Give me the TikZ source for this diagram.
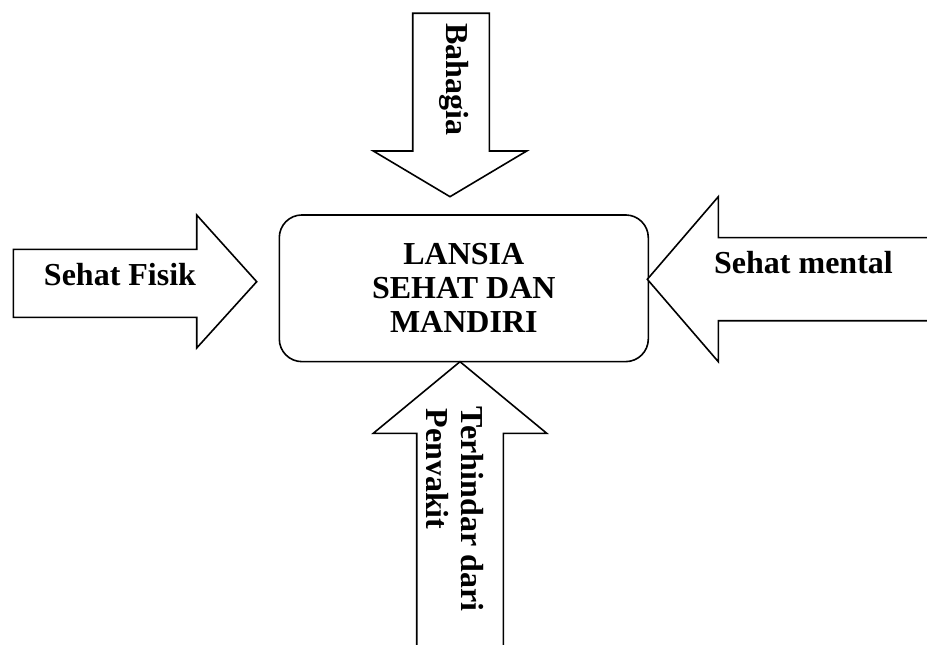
\documentclass[tikz,border=0pt]{standalone}
\usepackage{fontspec}
\setmainfont{Liberation Serif}
\begin{document}
\begin{tikzpicture}[x=0.75pt,y=-0.75pt,
  outline/.style={draw=black, line width=1.2pt, line join=miter},
  blockarrow/.style={outline, fill=white},
  lbl/.style={font=\fontsize{24}{26.25}\selectfont\bfseries, inner sep=0pt},
  mainbox/.style={outline, rounded corners=17pt, minimum width=276.75pt,
    minimum height=110pt, align=center, inner sep=0pt,
    font=\fontsize{24}{25.5}\selectfont\bfseries},
  vlbl/.style={lbl, rotate=-90, anchor=base west},
]
\useasboundingbox (0,0) rectangle (927,645);

% central box
\node[mainbox] (lansia) at (463.8,288.3) {LANSIA\\SEHAT DAN\\MANDIRI};

% top arrow (Bahagia)
\draw[blockarrow] (412.7,13.3) -- (489.3,13.3) -- (489.3,151) -- (526.7,151)
  -- (450,196.7) -- (373.3,151) -- (412.7,151) -- cycle;
\node[vlbl] (bahagia) at (446,23.3) {Bahagia};

% left arrow (Sehat Fisik)
\draw[blockarrow] (13.3,249.3) -- (196.7,249.3) -- (196.7,215) -- (256.7,281.7)
  -- (196.7,348) -- (196.7,317.3) -- (13.3,317.3) -- cycle;
\node[lbl, anchor=base] (fisik) at (120,285) {Sehat Fisik};

% right arrow (Sehat mental), shaft runs off the right edge
\fill[white] (935,237.7) -- (718.3,237.7) -- (718.3,196.7) -- (647.3,279.3)
  -- (718.3,361.7) -- (718.3,320.7) -- (935,320.7) -- cycle;
\draw[outline] (935,237.7) -- (718.3,237.7) -- (718.3,196.7) -- (647.3,279.3)
  -- (718.3,361.7) -- (718.3,320.7) -- (935,320.7);
\node[lbl, anchor=base] (mental) at (803.5,273.3) {Sehat mental};

% bottom arrow (Terhindar dari Penyakit), shaft runs off the bottom edge
\fill[white] (416.7,655) -- (416.7,433.3) -- (373.3,433.3) -- (460,361.7)
  -- (546.7,433.3) -- (503.3,433.3) -- (503.3,655) -- cycle;
\draw[outline] (416.7,655) -- (416.7,433.3) -- (373.3,433.3) -- (460,361.7)
  -- (546.7,433.3) -- (503.3,433.3) -- (503.3,655);
\node[vlbl] (terhindar) at (461.7,406.7) {Terhindar dari};
\begin{scope}
  \clip (426.5,380) rectangle (500,645);
  \node[vlbl] (penyakit) at (426.7,408.3) {Penyakit};
\end{scope}
\end{tikzpicture}
\end{document}
